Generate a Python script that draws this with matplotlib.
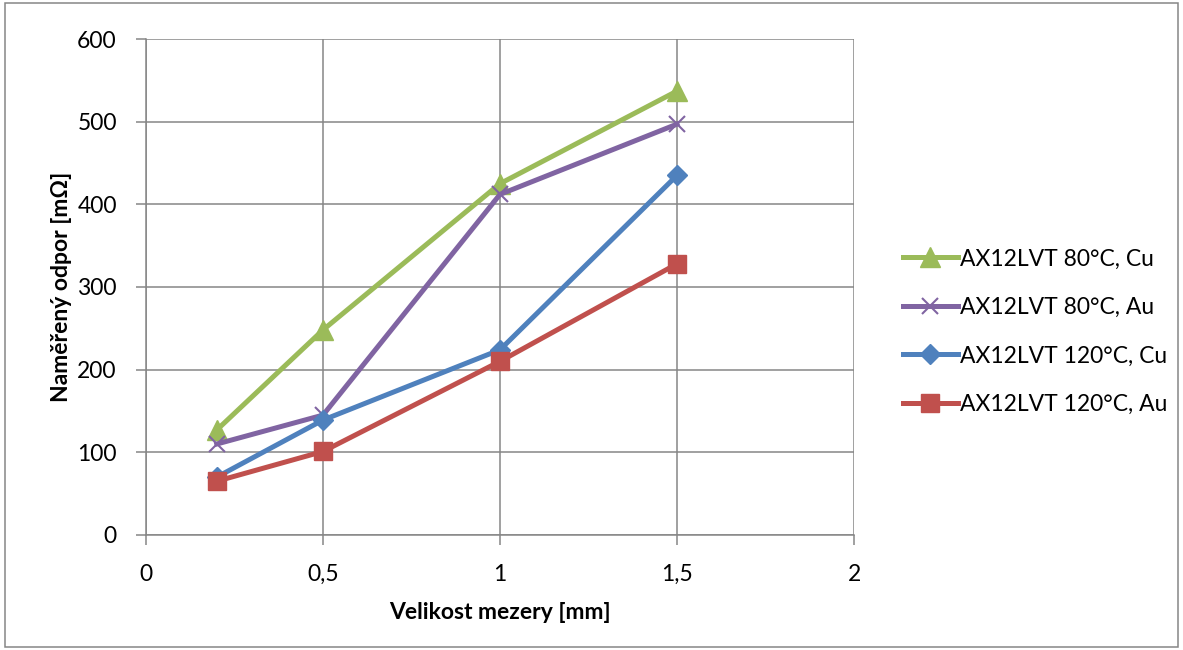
import numpy as np
import matplotlib.pyplot as plt
from matplotlib.patches import Rectangle

plt.rcParams['font.family'] = ['Lato', 'DejaVu Sans']

# data
mezera = [0.2, 0.5, 1.0, 1.5]
cu_80 = [127, 248, 425, 537]
au_80 = [110, 145, 412, 497]
cu_120 = [70, 139, 224, 435]
au_120 = [65, 101, 210, 328]
labels = ['AX12LVT 80°C, Cu', 'AX12LVT 80°C, Au',
          'AX12LVT 120°C, Cu', 'AX12LVT 120°C, Au']

fig = plt.figure(figsize=(11.83, 6.5), dpi=100)
ax = fig.add_axes([0.1234, 0.177, 0.5985, 0.763])

ax.plot(mezera, cu_80, color='#9BBB59', lw=3.6, marker='^', ms=14, label=labels[0])
ax.plot(mezera, au_80, color='#8064A2', lw=3.6, marker='x', ms=12, mew=1.5, label=labels[1])
ax.plot(mezera, cu_120, color='#4F81BD', lw=3.6, marker='D', ms=10, label=labels[2])
ax.plot(mezera, au_120, color='#C0504D', lw=3.6, marker='s', ms=13, label=labels[3])

ax.set_xlim(0, 2)
ax.set_ylim(0, 600)
ax.set_xticks([0, 0.5, 1, 1.5, 2])
ax.set_xticklabels(['0', '0,5', '1', '1,5', '2'])
ax.set_yticks(np.arange(0, 601, 100))
ax.grid(True, color='#868686', lw=1.1)
ax.set_axisbelow(True)
for s in ['top', 'right']:
    ax.spines[s].set_visible(False)
for s in ['left', 'bottom']:
    ax.spines[s].set_color('#868686')
    ax.spines[s].set_linewidth(1.1)
ax.tick_params(direction='out', length=7, width=1.1, color='#868686',
               labelsize=16.5)
ax.tick_params(axis='x', pad=14)
ax.tick_params(axis='y', pad=14)

ax.set_xlabel('Velikost mezery [mm]', fontsize=16.5, fontweight='bold', labelpad=12)
ax.set_ylabel('Naměřený odpor [mΩ]', fontsize=16.5, fontweight='bold', labelpad=4)

ax.legend(loc='center left', bbox_to_anchor=(1.04, 0.41), frameon=False,
          fontsize=16.5, handlelength=2.4, handletextpad=0.1, labelspacing=1.2)

fig.patches.append(Rectangle((0.004, 0.004), 0.992, 0.992, transform=fig.transFigure,
                             fill=False, ec='#868686', lw=1.1))

fig.savefig('out.png', dpi=100)
